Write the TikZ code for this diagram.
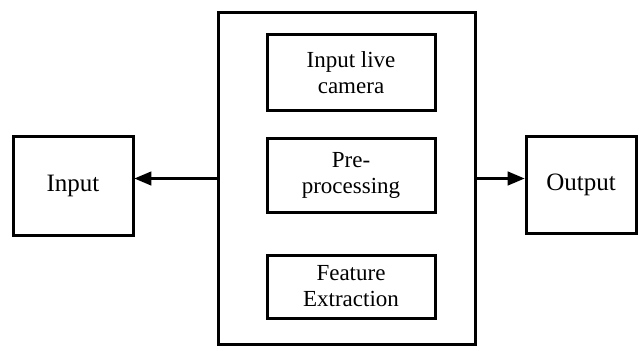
\documentclass[tikz,border=0pt]{standalone}
\usepackage{fontspec}
\setmainfont{Liberation Serif}
\usepackage{tikz}
\usetikzlibrary{arrows}
\tikzstyle{blk} = [draw, line width=3pt, rectangle, inner sep=0pt, align=center]
\tikzstyle{conn} = [line width=3pt, -triangle 45]

\begin{document}
\begin{tikzpicture}[yscale=-1]
			\useasboundingbox (0pt,0pt) rectangle (644pt,345pt);
			\node[blk, minimum width=257pt, minimum height=331pt] (sys) at (346.5pt,178.5pt) {};
			\node[blk, minimum width=120pt, minimum height=99pt, font=\fontsize{25}{28}\selectfont] (in) at (73pt,185.5pt) {Input};
			\node[blk, minimum width=110pt, minimum height=97pt, font=\fontsize{25}{28}\selectfont] (out) at (581pt,184.5pt) {Output};
			\node[blk, minimum width=168pt, minimum height=75pt, font=\fontsize{23}{26}\selectfont] (cam) at (351pt,72.5pt) {Input live\\camera};
			\node[blk, minimum width=168pt, minimum height=74pt, font=\fontsize{23}{26}\selectfont] (pre) at (351pt,175pt) {Pre-\\processing};
			\node[blk, minimum width=168pt, minimum height=63pt, font=\fontsize{23}{26}\selectfont] (feat) at (351pt,286.5pt) {Feature\\Extraction};
			\draw[conn] (sys.west) -- (in.east |- sys.west);
			\draw[conn] (sys.east) -- (out.west |- sys.east);
		\end{tikzpicture}
\end{document}
